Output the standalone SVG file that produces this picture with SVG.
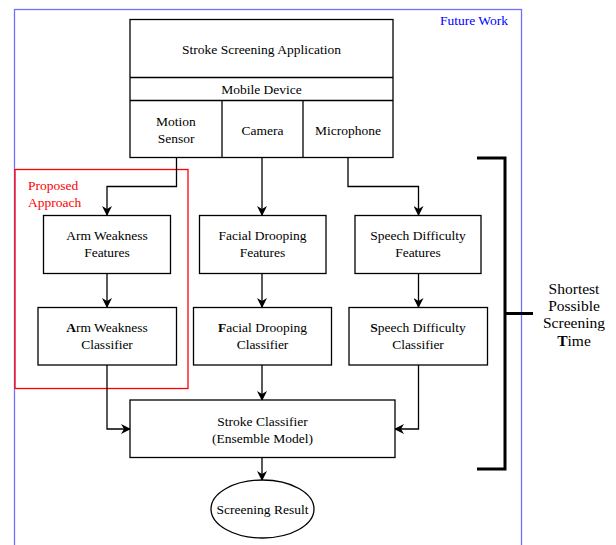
<svg xmlns="http://www.w3.org/2000/svg" width="616" height="545" viewBox="0 0 616 545" font-family="Liberation Serif, serif">
<defs>
<style>
text{font-family:'Liberation Serif',serif;font-size:13.5px;fill:#000;text-anchor:middle}
.big{font-size:15.5px}
.box{fill:#fff;stroke:#000;stroke-width:1.3}
.ln{fill:none;stroke:#000;stroke-width:1.3}
.br{fill:none;stroke:#000;stroke-width:3}
.b{font-weight:bold}
</style>
<marker id="ar" viewBox="0 0 10 10" refX="9" refY="5" markerWidth="10" markerHeight="10" markerUnits="userSpaceOnUse" orient="auto">
<path d="M0,0 L10,5 L0,10 L3,5 z" fill="#000"/>
</marker>
</defs>
<rect width="616" height="545" fill="#fff"/>
<g id="future-work">
<rect x="14.5" y="9.5" width="507" height="545" fill="none" stroke="#7070ff" stroke-width="1.3"/>
<text x="508" y="25" style="fill:#0000ff;text-anchor:end">Future Work</text>
</g>
<g id="proposed-approach">
<rect x="15" y="169.5" width="173" height="219" fill="none" stroke="#ff0000" stroke-width="1.3"/>
<text x="28" y="190" style="fill:#ff0000;text-anchor:start">Proposed</text>
<text x="28" y="207" style="fill:#ff0000;text-anchor:start">Approach</text>
</g>
<g id="connectors">
<path class="ln" d="M176.5,158 V186.5 H107 V215" marker-end="url(#ar)"/>
<path class="ln" d="M262,158 V215" marker-end="url(#ar)"/>
<path class="ln" d="M348,158 V186.5 H418.5 V215" marker-end="url(#ar)"/>
<path class="ln" d="M107,273 V307" marker-end="url(#ar)"/>
<path class="ln" d="M262,273 V307" marker-end="url(#ar)"/>
<path class="ln" d="M418.5,273 V307" marker-end="url(#ar)"/>
<path class="ln" d="M107,365 V429 H130" marker-end="url(#ar)"/>
<path class="ln" d="M262,365 V400" marker-end="url(#ar)"/>
<path class="ln" d="M418.5,365 V429 H395" marker-end="url(#ar)"/>
<path class="ln" d="M262,458 V480" marker-end="url(#ar)"/>
</g>
<g id="app">
<rect class="box" x="130" y="19.5" width="263" height="138"/>
<line class="ln" x1="130" y1="77.5" x2="393" y2="77.5"/>
<line class="ln" x1="130" y1="100.5" x2="393" y2="100.5"/>
<text x="261.5" y="54">Stroke Screening Application</text>
<text x="261.5" y="94">Mobile Device</text>
</g>
<g id="motion-sensor">
<line class="ln" x1="222" y1="100.5" x2="222" y2="157.5"/>
<text x="176" y="126">Motion</text>
<text x="176" y="143">Sensor</text>
</g>
<g id="camera">
<line class="ln" x1="303" y1="100.5" x2="303" y2="157.5"/>
<text x="262.5" y="134.5">Camera</text>
</g>
<g id="microphone">
<text x="348" y="134.5">Microphone</text>
</g>
<g id="arm-features">
<rect class="box" x="43.5" y="215.5" width="127" height="58"/>
<text x="107" y="240">Arm Weakness</text>
<text x="107" y="257">Features</text>
</g>
<g id="facial-features">
<rect class="box" x="199.5" y="215.5" width="126.5" height="58"/>
<text x="262.5" y="240">Facial Drooping</text>
<text x="262.5" y="257">Features</text>
</g>
<g id="speech-features">
<rect class="box" x="355" y="215.5" width="126" height="58"/>
<text x="418" y="240">Speech Difficulty</text>
<text x="418" y="257">Features</text>
</g>
<g id="arm-classifier">
<rect class="box" x="38" y="307.5" width="138.5" height="57.5"/>
<text x="107" y="332"><tspan class="b">A</tspan>rm Weakness</text>
<text x="107" y="349">Classifier</text>
</g>
<g id="facial-classifier">
<rect class="box" x="193.5" y="307.5" width="138" height="57.5"/>
<text x="262.5" y="332"><tspan class="b">F</tspan>acial Drooping</text>
<text x="262.5" y="349">Classifier</text>
</g>
<g id="speech-classifier">
<rect class="box" x="349" y="307.5" width="138.5" height="57.5"/>
<text x="418" y="332"><tspan class="b">S</tspan>peech Difficulty</text>
<text x="418" y="349">Classifier</text>
</g>
<g id="stroke-classifier">
<rect class="box" x="130" y="400" width="265" height="57.5"/>
<text x="262.5" y="426">Stroke Classifier</text>
<text x="262.5" y="443">(Ensemble Model)</text>
</g>
<g id="screening-result">
<ellipse class="box" cx="262.5" cy="509" rx="51.5" ry="29"/>
<text x="262.5" y="514">Screening Result</text>
</g>
<g id="time-bracket">
<path class="br" d="M477,158 H505 V469 H477 M505,313.5 H533"/>
<text class="big" x="574" y="293.5">Shortest</text>
<text class="big" x="574" y="310.5">Possible</text>
<text class="big" x="574" y="328">Screening</text>
<text class="big" x="574" y="345.5"><tspan class="b">T</tspan>ime</text>
</g>
</svg>
